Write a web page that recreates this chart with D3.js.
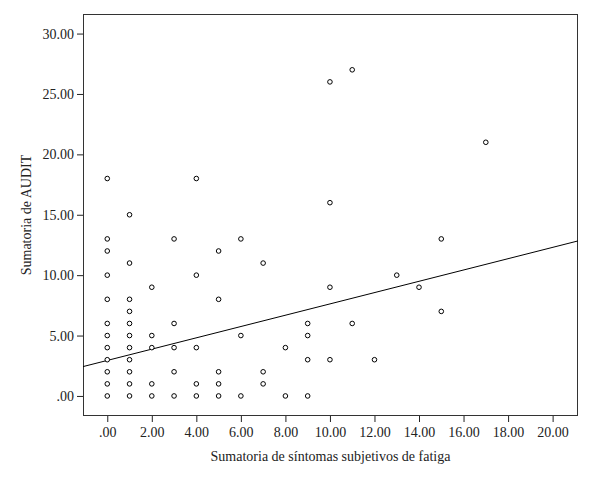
<!DOCTYPE html>
<html><head><meta charset="utf-8">
<script src="https://cdn.jsdelivr.net/npm/d3@7"></script>
<style>body{margin:0;background:#fff}svg{display:block}text{font-family:"Liberation Serif","Times New Roman",serif}</style>
</head><body><svg id="c" width="600" height="482"></svg>
<script>
// fatigue symptoms (x) and AUDIT score (y)
const xValues = [0,0,0,0,0,0,0,0,0,0,0,0,
  1,1,1,1,1,1,1,1,1,1,1,
  2,2,2,2,2,
  3,3,3,3,3,
  4,4,4,4,4,
  5,5,5,5,5,
  6,6,6,
  7,7,7,
  8,8,
  9,9,9,9,
  10,10,10,10,
  11,11,
  12,13,14,
  15,15,
  17];
const yValues = [18,13,12,10,8,6,5,4,3,2,1,0,
  15,11,8,7,6,5,4,3,2,1,0,
  9,5,4,1,0,
  13,6,4,2,0,
  18,10,4,1,0,
  12,8,2,1,0,
  13,5,0,
  11,2,1,
  4,0,
  6,5,3,0,
  26,16,9,3,
  27,6,
  3,10,9,
  13,7,
  21];
const fitLine = [2.94, 0.468]; // intercept, slope
const xTicks = [0,2,4,6,8,10,12,14,16,18,20];
const yTicks = [0,5,10,15,20,25,30];
const xDomain = [-1.09, 21.14];
const yDomain = [-1.66, 31.62];
const xTitle = "Sumatoria de síntomas subjetivos de fatiga";
const yTitle = "Sumatoria de AUDIT";

const svg = d3.select("#c");
const L = 83, R = 578, T = 14, B = 416;
const x = d3.scaleLinear().domain(xDomain).range([L, R]);
const y = d3.scaleLinear().domain(yDomain).range([B, T]);
const fmt = v => v === 0 ? ".00" : d3.format(".2f")(v);

const gx = svg.append("g").attr("transform", `translate(0,${B})`)
  .call(d3.axisBottom(x).tickValues(xTicks).tickFormat(fmt).tickSize(6).tickSizeOuter(0).tickPadding(5));
const gy = svg.append("g").attr("transform", `translate(${L},0)`)
  .call(d3.axisLeft(y).tickValues(yTicks).tickFormat(fmt).tickSize(6).tickSizeOuter(0).tickPadding(3));
[gx, gy].forEach(g => {
  g.select(".domain").remove();
  g.selectAll("line").attr("stroke", "#222");
  g.selectAll("text").attr("font-size", 14).attr("fill", "#222")
    .attr("font-family", '"Liberation Serif","Times New Roman",serif');
});

svg.append("rect").attr("x", L + 0.5).attr("y", T + 0.5)
  .attr("width", R - L - 1).attr("height", B - T - 1)
  .attr("fill", "none").attr("stroke", "#333").attr("stroke-width", 1);

const clip = svg.append("clipPath").attr("id", "pc").append("rect")
  .attr("x", L).attr("y", T).attr("width", R - L).attr("height", B - T);

svg.append("line").attr("clip-path", "url(#pc)")
  .attr("x1", x(xDomain[0])).attr("y1", y(fitLine[0] + fitLine[1] * xDomain[0]))
  .attr("x2", x(xDomain[1])).attr("y2", y(fitLine[0] + fitLine[1] * xDomain[1]))
  .attr("stroke", "#000").attr("stroke-width", 1);

svg.append("g").selectAll("circle").data(xValues.map((v, i) => [v, yValues[i]]))
  .join("circle").attr("cx", d => x(d[0])).attr("cy", d => y(d[1])).attr("r", 2.3)
  .attr("fill", "#fff").attr("stroke", "#000").attr("stroke-width", 1);

svg.append("text").attr("x", (L + R) / 2).attr("y", 461).attr("text-anchor", "middle")
  .attr("font-size", 14).attr("fill", "#222").text(xTitle);
svg.append("text").attr("transform", `translate(31,${(T + B) / 2}) rotate(-90)`)
  .attr("text-anchor", "middle").attr("font-size", 14).attr("fill", "#222").text(yTitle);
</script></body></html>
